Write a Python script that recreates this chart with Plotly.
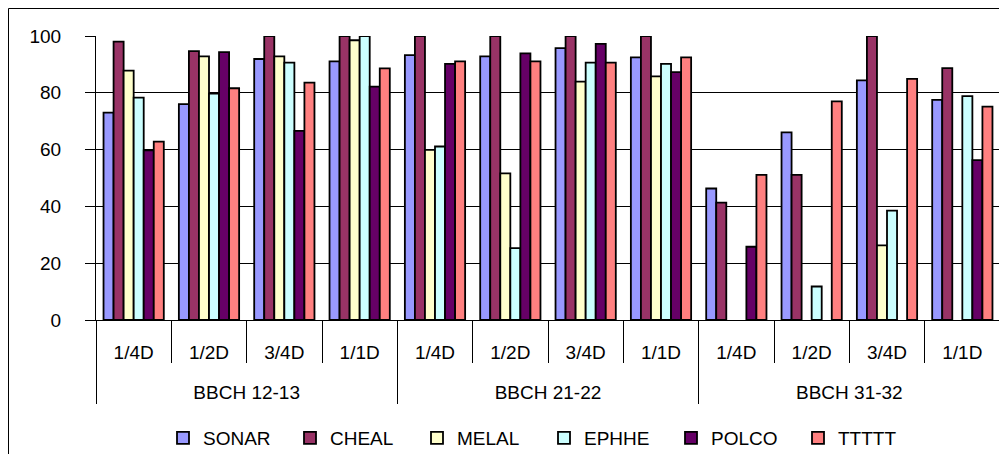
import plotly.graph_objects as go

stages = ["BBCH 12-13", "BBCH 21-22", "BBCH 31-32"]
doses = ["1/4D", "1/2D", "3/4D", "1/1D"]

series_names = ["SONAR", "CHEAL", "MELAL", "EPHHE", "POLCO", "TTTTT"]
series_colors = ["#9999FF", "#993366", "#FFFFCC", "#CCFFFF", "#660066", "#FF8080"]

SONAR = [73.0, 76.0, 91.9, 91.1, 93.3, 92.8, 95.7, 92.5, 46.3, 66.1, 84.4, 77.5]
CHEAL = [98.0, 94.7, 100, 100, 100, 100, 100, 100, 41.3, 51.1, 100, 88.7]
MELAL = [87.8, 92.8, 92.8, 98.5, 59.9, 51.6, 83.9, 85.8, None, None, 26.3, None]
EPHHE = [78.3, 79.7, 90.6, 100, 61.1, 25.3, 90.6, 90.2, None, 11.8, 38.5, 78.8]
POLCO = [59.7, 94.3, 66.6, 82.2, 90.2, 93.9, 97.2, 87.3, 25.8, None, None, 56.3]
TTTTT = [62.8, 81.6, 83.6, 88.6, 91.1, 91.1, 90.6, 92.5, 51.1, 77.0, 84.9, 75.1]

series_values = [SONAR, CHEAL, MELAL, EPHHE, POLCO, TTTTT]

# category positions derived from the two label levels
inner = [d for _ in stages for d in doses]
n_cat = len(inner)
idx = list(range(n_cat))
n_d = len(doses)
group_centers = [g * n_d + (n_d - 1) / 2 for g in range(len(stages))]
cat_bounds = [i - 0.5 for i in range(n_cat + 1)]
group_bounds = [g * n_d - 0.5 for g in range(len(stages) + 1)]

FONT = "Liberation Sans, Arial, sans-serif"
FS = 19

fig = go.Figure()
for name, color, vals in zip(series_names, series_colors, series_values):
    fig.add_trace(go.Bar(
        x=idx, y=vals, name=name,
        marker=dict(color=color, line=dict(color="black", width=1.8)),
    ))

# empty helper traces so the overlay axes (separators / group labels) get drawn
for ax in ["x2", "x3", "x4"]:
    fig.add_trace(go.Scatter(x=[], y=[], xaxis=ax, yaxis="y", mode="markers",
                             showlegend=False, hoverinfo="skip"))

# page has an 8px body margin, so the figure is offset by 8px
W, H = 999, 446
ml, mr, mt, mb = 88, 7, 28, 134
pw, ph = W - ml - mr, H - mt - mb

def px_x(p):
    return (p - ml) / pw

def px_y(p):
    return (H - mb - p) / ph

xrange = [-0.5, n_cat - 0.5]
tf = dict(family=FONT, size=FS, color="black")

fig.update_layout(
    width=W, height=H,
    margin=dict(l=ml, r=mr, t=mt, b=mb, autoexpand=False),
    paper_bgcolor="white", plot_bgcolor="white",
    barmode="group", bargap=0.2, bargroupgap=0,
    font=tf,
    showlegend=True,
    legend=dict(orientation="h", x=px_x(155), xanchor="left",
                y=px_y(430), yanchor="middle", entrywidth=82,
                font=tf, bgcolor="rgba(0,0,0,0)"),
    xaxis=dict(
        type="linear", range=xrange, automargin=False,
        showline=True, linecolor="black", linewidth=1,
        tickmode="array", tickvals=idx, ticktext=inner,
        ticks="", showgrid=False, zeroline=False, ticklabelstandoff=15,
        tickfont=tf,
    ),
    xaxis2=dict(
        overlaying="x", anchor="y", side="bottom", type="linear",
        range=xrange, automargin=False,
        tickmode="array", tickvals=cat_bounds,
        ticks="outside", ticklen=42, tickcolor="black", tickwidth=1,
        showticklabels=False, showline=False, showgrid=False, zeroline=False,
    ),
    xaxis3=dict(
        overlaying="x", anchor="y", side="bottom", type="linear",
        range=xrange, automargin=False,
        tickmode="array", tickvals=group_bounds,
        ticks="outside", ticklen=83, tickcolor="black", tickwidth=1,
        showticklabels=False, showline=False, showgrid=False, zeroline=False,
    ),
    xaxis4=dict(
        overlaying="x", anchor="y", side="bottom", type="linear",
        range=xrange, automargin=False,
        tickmode="array", tickvals=group_centers, ticktext=stages,
        ticks="", showline=False, showgrid=False, zeroline=False,
        ticklabelstandoff=59, tickfont=tf,
    ),
    yaxis=dict(
        range=[0, 100], dtick=20, automargin=False,
        showline=True, linecolor="black", linewidth=1,
        ticks="outside", ticklen=10, tickcolor="black",
        showgrid=True, gridcolor="black", gridwidth=1,
        zeroline=False, ticklabelstandoff=20,
        tickfont=tf,
    ),
    shapes=[dict(type="rect", xref="paper", yref="paper",
                 x0=px_x(0.5), x1=px_x(W + 10), y0=px_y(H + 20), y1=px_y(0.5),
                 line=dict(color="black", width=1), fillcolor="rgba(0,0,0,0)",
                 layer="below")],
)

fig.write_html("out.html")
